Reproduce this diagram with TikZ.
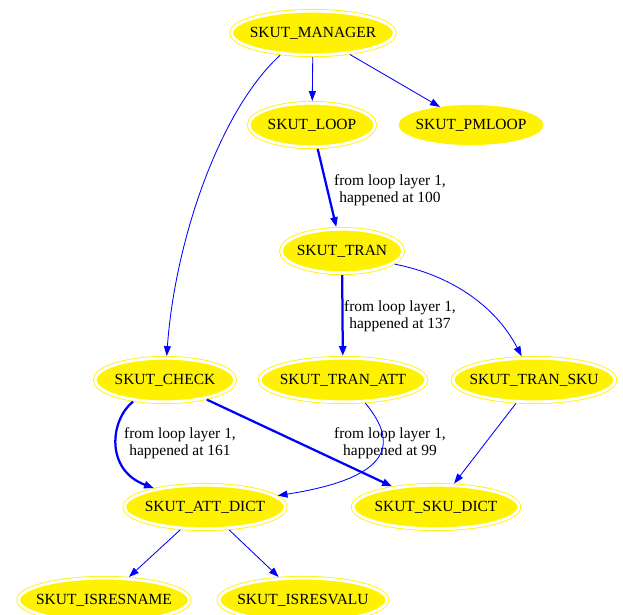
\documentclass[tikz,border=0pt]{standalone}
\usepackage{fontspec}
\setmainfont{Liberation Serif}
\usetikzlibrary{shapes.geometric,arrows.meta}

\begin{document}
\begin{tikzpicture}[x=0.025cm, y=-0.025cm,
    proc/.style = {ellipse, fill=yellow, draw=yellow, line width=0.6pt, inner xsep=-12pt, inner ysep=0pt, minimum height=1.09cm, font=\fontsize{11pt}{12.5pt}\selectfont},
    dbl/.style = {proc, double=white, double distance=2pt, outer sep=1.6pt},
    call/.style = {blue, line width=0.6pt, -{Triangle[length=7pt, width=5pt]}},
    hot/.style = {call, line width=1.6pt},
    note/.style = {align=center, font=\fontsize{11pt}{12.5pt}\selectfont}]
    \useasboundingbox (0,0) rectangle (623,614);
    \clip (0,0) rectangle (623,614);

    \node[dbl, minimum width=4.06cm] (manager) at (313,33) {SKUT\_MANAGER};
    \node[dbl, minimum width=3.14cm] (loop) at (312,125) {SKUT\_LOOP};
    \node[proc, minimum width=3.6cm, minimum height=0.98cm] (pmloop) at (471,125) {SKUT\_PMLOOP};
    \node[dbl, minimum width=3.03cm] (tran) at (342,251) {SKUT\_TRAN};

    \node[dbl, minimum width=3.49cm] (check) at (165,380) {SKUT\_CHECK};
    \node[dbl, minimum width=4.14cm] (tranatt) at (343,380) {SKUT\_TRAN\_ATT};
    \node[dbl, minimum width=4.04cm] (transku) at (534,380) {SKUT\_TRAN\_SKU};

    \node[dbl, minimum width=4.01cm] (attdict) at (205,507) {SKUT\_ATT\_DICT};
    \node[dbl, minimum width=4.14cm] (skudict) at (436,507) {SKUT\_SKU\_DICT};

    \node[dbl, minimum width=4.26cm] (isresname) at (104,600) {SKUT\_ISRESNAME};
    \node[dbl, minimum width=4.19cm] (isresvalu) at (303,600) {SKUT\_ISRESVALU};

    \node[note] (at100) at (390,190) {from loop layer 1,\\happened at 100};
    \node[note] (at137) at (400,316) {from loop layer 1,\\happened at 137};
    \node[note] (at161) at (180,443) {from loop layer 1,\\happened at 161};
    \node[note] (at99) at (390,443) {from loop layer 1,\\happened at 99};

    \draw[call] (manager) -- (loop);
    \draw[call] (manager) -- (pmloop);
    \draw[call] (manager.214) .. controls (220,110) and (175,240) .. (check);
    \draw[hot] (loop) -- (tran);
    \draw[hot] (tran) -- (tranatt);
    \draw[call] (tran.346) .. controls (450,275) and (495,305) .. (transku);
    \draw[hot] (check.214) .. controls (110,420) and (105,470) .. (attdict);
    \draw[hot] (check) -- (skudict);
    \draw[call] (tranatt.314) .. controls (400,445) and (390,478) .. (attdict);
    \draw[call] (transku) -- (skudict);
    \draw[call] (attdict) -- (isresname);
    \draw[call] (attdict) -- (isresvalu);
\end{tikzpicture}
\end{document}
